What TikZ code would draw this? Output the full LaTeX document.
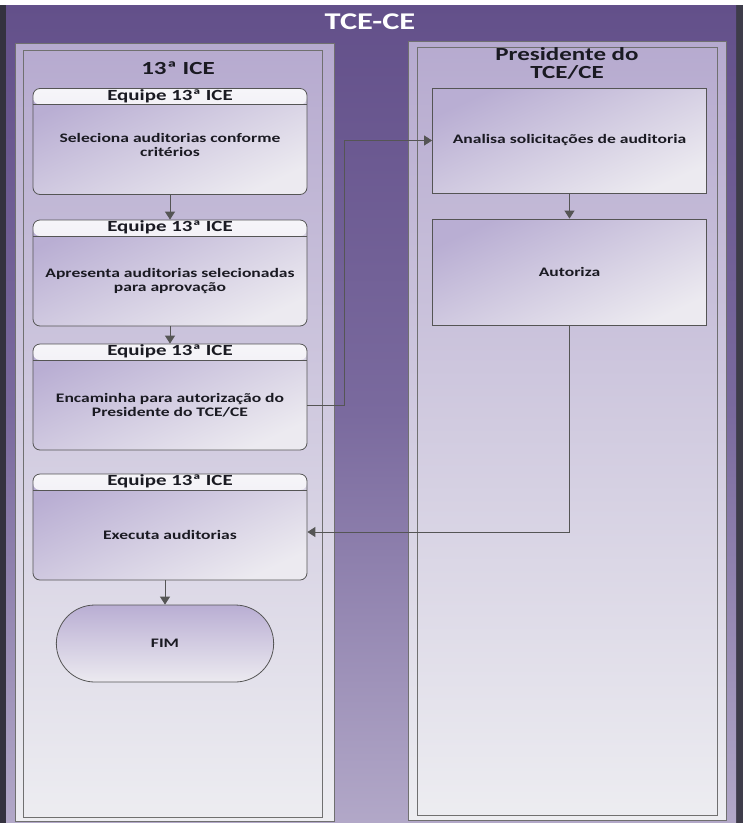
\documentclass[tikz,border=0pt]{standalone}
\usepackage{fontspec}
\setmainfont{Carlito}[FakeStretch=1.35]
\usetikzlibrary{arrows.meta,shapes.misc}

\definecolor{framedark}{HTML}{34323F}
\definecolor{frameright}{HTML}{3E3C4A}
\definecolor{contop}{HTML}{63508A}
\definecolor{conmid}{HTML}{7A6A9E}
\definecolor{conbot}{HTML}{B2A8C8}
\definecolor{lanetop}{HTML}{B6AACF}
\definecolor{lanebot}{HTML}{EDEDF1}
\definecolor{lanegray}{HTML}{707070}
\definecolor{boxtop}{HTML}{B9AED3}
\definecolor{boxbot}{HTML}{ECEAF0}
\definecolor{hdrfill}{HTML}{E2DEEB}
\definecolor{boxgray}{HTML}{555555}
\definecolor{txtdark}{HTML}{1A1A22}

\tikzset{
	lane/.style={draw=lanegray, line width=1pt, top color=lanetop, bottom color=lanebot},
	laneinner/.style={draw=lanegray, line width=1pt},
	taskbox/.style={draw=boxgray, line width=0.8pt, rounded corners=7pt,
		minimum width=274pt, minimum height=106pt, inner sep=0pt,
		top color=boxtop, bottom color=boxbot, shading angle=25,
		path picture={
			\shade[top color=white!70!hdrfill, bottom color=hdrfill] (path picture bounding box.north west) rectangle ([yshift=-16pt]path picture bounding box.north east);
			\draw[boxgray, line width=0.8pt] ([yshift=-16pt]path picture bounding box.north west) -- ([yshift=-16pt]path picture bounding box.north east);}},
	sqbox/.style={draw=boxgray, line width=0.8pt, minimum width=274pt, minimum height=105pt,
		inner sep=0pt, top color=boxtop, bottom color=boxbot, shading angle=25,
		text=txtdark, font=\fontsize{13}{15}\selectfont\bfseries},
	endbox/.style={rounded rectangle, draw=boxgray, line width=0.8pt, minimum width=224pt,
		minimum height=77pt, top color=boxtop, bottom color=boxbot,
		text=txtdark, font=\fontsize{13}{15}\selectfont\bfseries},
	headtxt/.style={text=txtdark, font=\fontsize{15.5}{16}\selectfont\bfseries, inner sep=0pt},
	bodytxt/.style={text=txtdark, align=center, font=\fontsize{13}{14}\selectfont\bfseries, inner sep=0pt},
	lanetitle/.style={text=txtdark, align=center, font=\fontsize{18.5}{18}\selectfont\bfseries, inner sep=0pt},
	flow/.style={draw=boxgray, line width=0.9pt, -{Triangle[width=10pt,length=8pt]}}
}

\begin{document}
\begin{tikzpicture}[x=1pt,y=1pt,yscale=-1,xscale=1]
	\useasboundingbox (0,0) rectangle (743,823);

	%Shape: Frame
	\fill[white] (0,0) rectangle (743,823);
	\fill[framedark] (0,5) rectangle (6,823);
	\fill[frameright] (736,5) rectangle (743,823);
	\shade[top color=contop, bottom color=conbot, middle color=conmid] (6,5) rectangle (736,823);

	% Text Node
	\node[text=white, font=\fontsize{24}{26}\selectfont\bfseries] (ttl) at (370,22) {TCE-CE};

	%Shape: Lanes
	\path[lane] (15,43) rectangle (334,821);
	\path[laneinner] (23,50) rectangle (322,817);
	\path[lane] (408,41) rectangle (726,820);
	\path[laneinner] (417,47) rectangle (717,815);

	% Text Node
	\node[lanetitle] (ice) at (178,68) {13ª ICE};
	% Text Node
	\node[lanetitle] (pres) at (567,63) {Presidente do\\TCE/CE};

	%Shape: Rounded boxes
	\node[taskbox] (sel) at (170,141.5) {};
	\node[headtxt] (selh) at ([yshift=8pt]sel.north) {Equipe 13ª ICE};
	\node[bodytxt] (selt) at ([yshift=3pt]sel.center) {Seleciona auditorias conforme\\critérios};

	\node[taskbox] (apr) at (170,273) {};
	\node[headtxt] (aprh) at ([yshift=8pt]apr.north) {Equipe 13ª ICE};
	\node[bodytxt] (aprt) at ([yshift=8pt]apr.center) {Apresenta auditorias selecionadas\\para aprovação};

	\node[taskbox] (enc) at (170,397) {};
	\node[headtxt] (ench) at ([yshift=8pt]enc.north) {Equipe 13ª ICE};
	\node[bodytxt] (enct) at ([yshift=8pt]enc.center) {Encaminha para autorização do\\Presidente do TCE/CE};

	\node[taskbox] (exe) at (170,527) {};
	\node[headtxt] (exeh) at ([yshift=8pt]exe.north) {Equipe 13ª ICE};
	\node[bodytxt] (exet) at ([yshift=8pt]exe.center) {Executa auditorias};

	%Shape: Terminal
	\node[endbox] (fim) at (165,643.5) {FIM};

	%Shape: Square boxes
	\node[sqbox] (ana) at (569.5,140.5) {Analisa solicitações de auditoria};
	\node[sqbox, minimum height=106pt] (aut) at (569.5,272) {Autoriza};

	%Straight Lines
	\draw[flow] (sel.south) -- (apr.north);
	\draw[flow] (apr.south) -- (enc.north);
	\draw[flow] ([yshift=8pt]enc.east) -- ++(37,0) |- (ana.west);
	\draw[flow] (ana.south) -- (aut.north);
	\draw[flow] (aut.south) |- ([yshift=5pt]exe.east);
	\draw[flow] (exe.south -| fim.north) -- (fim.north);

\end{tikzpicture}
\end{document}
